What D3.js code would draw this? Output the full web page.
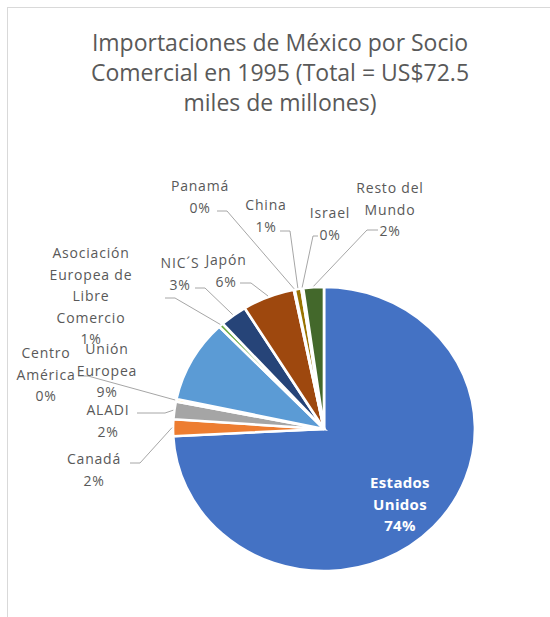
<!DOCTYPE html>
<html>
<head>
<meta charset="utf-8">
<script src="https://cdn.jsdelivr.net/npm/d3@7"></script>
<style>
  body { margin: 0; background: #fff; }
  svg { display: block; font-family: "Open Sans", sans-serif; }
</style>
</head>
<body>
<div id="chart"></div>
<script>
const WIDTH = 550;
const HEIGHT = 617;

// chart data (percent of total imports, 1995)
const categories = ["Estados Unidos", "Canadá", "ALADI", "Centro América", "Unión Europea",
  "Asociación Europea de Libre Comercio", "NIC´S", "Japón", "Panamá", "China", "Israel", "Resto del Mundo"];
const shares = [74.2, 1.9, 2.0, 0.3, 9.4, 0.5, 2.9, 5.6, 0.1, 0.7, 0.2, 2.2];
const colors = ["#4472C4", "#ED7D31", "#A5A5A5", "#FFC000", "#5B9BD5", "#70AD47",
  "#264478", "#9E480E", "#636363", "#997300", "#255E91", "#43682B"];
// how each name wraps in its data label
const wrapped = [["Estados", "Unidos"], ["Canadá"], ["ALADI"], ["Centro", "América"], ["Unión", "Europea"],
  ["Asociación", "Europea de", "Libre", "Comercio"], ["NIC´S"], ["Japón"], ["Panamá"], ["China"], ["Israel"], ["Resto del", "Mundo"]];
const titleLines = ["Importaciones de México por Socio", "Comercial en 1995 (Total = US$72.5", "miles de millones)"];

// label layout: x,y = first line baseline, lead = start & knee of the leader line
const labelPos = [
  {x: 400, y: 488, inside: true},
  {x: 94, y: 464, lead: [130, 463, 140]},
  {x: 108, y: 415, lead: [137, 413, 165]},
  {x: 46, y: 358, lead: [78, 376, 88]},
  {x: 107, y: 354},
  {x: 91, y: 258, lead: [165, 298, 175]},
  {x: 180, y: 268, lead: [195, 288, 205]},
  {x: 226, y: 265, lead: [240, 283, 251]},
  {x: 200, y: 191, lead: [217, 211, 227]},
  {x: 266, y: 210, lead: [280, 231, 290]},
  {x: 330, y: 218, lead: [318, 236, 313]},
  {x: 390, y: 193, lead: [378, 230, 367]}
];

const CX = 324, CY = 429, RY = 142, RX = 151; // pie is drawn as a slightly wide ellipse
const LINE_H = 21.5;

var svg = d3.select("#chart").append("svg")
  .attr("width", WIDTH)
  .attr("height", HEIGHT);

// chart area border
svg.append("rect")
  .attr("x", 7.5).attr("y", 7.5)
  .attr("width", WIDTH + 20).attr("height", HEIGHT + 20)
  .attr("fill", "none")
  .attr("stroke", "#d9d9d9");

// title
svg.append("text")
  .attr("text-anchor", "middle")
  .attr("fill", "#595959")
  .style("font-size", "23px")
  .selectAll("tspan")
  .data(titleLines)
  .join("tspan")
    .attr("x", 280)
    .attr("y", (d, i) => 51 + i * 30)
    .text(d => d);

var rows = categories.map((c, i) => ({name: c, value: shares[i], i: i}));

var pie = d3.pie().sort(null).value(d => d.value);
var arcs = pie(rows);
var arc = d3.arc().innerRadius(0).outerRadius(RY);

var g = svg.append("g")
  .attr("transform", `translate(${CX},${CY}) scale(${RX / RY},1)`);

g.selectAll("path")
  .data(arcs)
  .join("path")
    .attr("d", arc)
    .attr("fill", d => colors[d.data.i])
    .attr("stroke", "#fff")
    .attr("stroke-width", 2.5);

// point on the ellipse edge at the middle of a slice
function edgePoint(d) {
  const a = (d.startAngle + d.endAngle) / 2;
  return [CX + Math.sin(a) * (RX + 1), CY - Math.cos(a) * (RY + 1)];
}

// leader lines
svg.append("g").selectAll("path")
  .data(arcs.filter(d => labelPos[d.index].lead))
  .join("path")
    .attr("fill", "none")
    .attr("stroke", "#a6a6a6")
    .attr("stroke-width", 1)
    .attr("d", d => {
      const l = labelPos[d.index].lead;
      const e = edgePoint(d);
      return `M${l[0]},${l[1]}H${l[2]}L${e[0]},${e[1]}`;
    });

// data labels
var labels = svg.append("g").selectAll("text")
  .data(arcs)
  .join("text")
    .attr("text-anchor", "middle")
    .attr("fill", d => labelPos[d.index].inside ? "#fff" : "#595959")
    .style("font-weight", d => labelPos[d.index].inside ? "bold" : "normal")
    .style("font-size", d => labelPos[d.index].inside ? "15px" : "14px")
    .style("letter-spacing", d => labelPos[d.index].inside ? "0.3px" : "0.8px");

labels.selectAll("tspan")
  .data(d => wrapped[d.index].concat([d3.format(".0f")(d.data.value) + "%"])
    .map(t => ({t: t, p: labelPos[d.index]})))
  .join("tspan")
    .attr("x", d => d.p.x)
    .attr("y", (d, i) => d.p.y + i * LINE_H)
    .text(d => d.t);
</script>
</body>
</html>
